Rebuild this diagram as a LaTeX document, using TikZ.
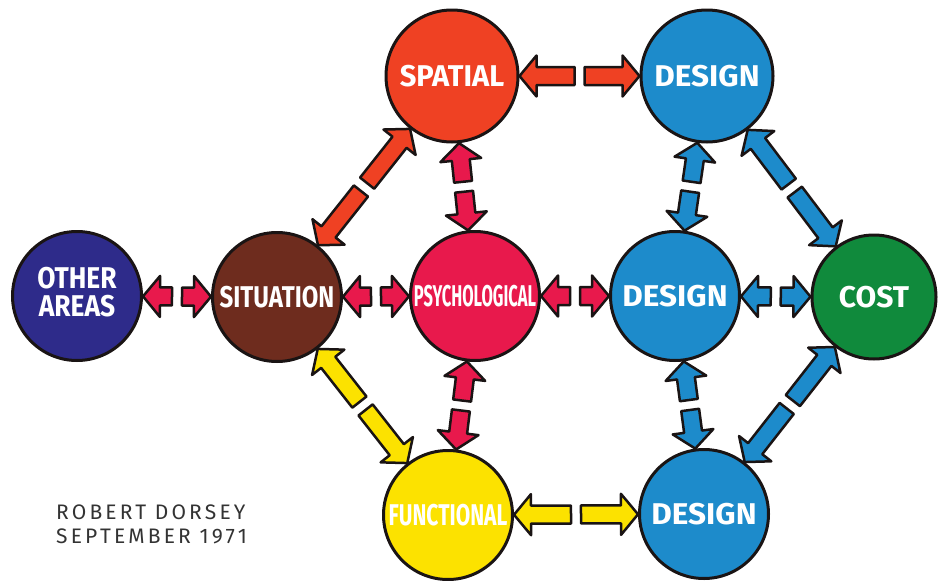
\documentclass[tikz,border=0pt]{standalone}
\usepackage{graphicx}
\usepackage{fontspec}
\setmainfont{Fira Sans}
\newfontfamily\creditfont[LetterSpace=15]{Fira Sans}
\usepackage{tikz}
\usetikzlibrary{calc}
\usepackage{xcolor}
\definecolor{inkline}{HTML}{1A1414}
\definecolor{navyball}{HTML}{2E2B8A}
\definecolor{brownball}{HTML}{6E2C1E}
\definecolor{redball}{HTML}{EF4123}
\definecolor{crimsonball}{HTML}{E8194C}
\definecolor{yellowball}{HTML}{FCE200}
\definecolor{blueball}{HTML}{1D8BCB}
\definecolor{greenball}{HTML}{108A3C}
\definecolor{pencil}{HTML}{333333}

% arrow sizes
\newcommand{\arrshaft}{9pt}
\newcommand{\arrhead}{20.5pt}
\newcommand{\arrneck}{17pt}
\newcommand{\arrgap}{5pt}

% one half of a split arrow: fill colour, tail point, tip point
\newcommand{\arrowhalf}[3]{%
  \coordinate (ah-n) at ($(#3)!\arrneck!(#2)$);
  \filldraw[arrowpart, fill=#1]
    ($(#2)!\arrshaft!90:(#3)$) -- ($(ah-n)!\arrshaft!90:(#3)$) -- ($(ah-n)!\arrhead!90:(#3)$)
    -- (#3) -- ($(ah-n)!\arrhead!-90:(#3)$) -- ($(ah-n)!\arrshaft!-90:(#3)$)
    -- ($(#2)!\arrshaft!-90:(#3)$) -- cycle;
}
% split double arrow between two balls
\newcommand{\linkballs}[3]{%
  \path (#2) -- (#3) coordinate[pos=0] (lk-a) coordinate[pos=.5] (lk-m) coordinate[pos=1] (lk-b);
  \arrowhalf{#1}{$(lk-m)!\arrgap!(lk-a)$}{lk-a}
  \arrowhalf{#1}{$(lk-m)!\arrgap!(lk-b)$}{lk-b}
}
\newcommand{\squeeze}[2]{\makebox[0pt]{\scalebox{#1}[1]{#2}}}

\tikzset{
  ball/.style={circle, draw=inkline, line width=3pt, minimum size=#1, inner sep=0pt,
    text=white, font=\fontsize{30}{31}\selectfont\bfseries},
  ball/.default=129pt,
  arrowpart/.style={draw=inkline, line width=2.5pt, line join=round},
  credit/.style={text=pencil, font=\creditfont\fontsize{21}{24}\selectfont, align=left, inner sep=0pt}
}

\begin{document}
\begin{tikzpicture}[x=1pt, y=-1pt]
\useasboundingbox (0,0) rectangle (938,581);

% balls
\node[ball, fill=navyball] (oth) at (77,296) {\makebox[0pt]{\begin{tabular}{@{}c@{}}\scalebox{.88}[1]{OTHER}\\[-3pt]\scalebox{.88}[1]{AREAS}\end{tabular}}};
\node[ball, fill=brownball] (sit) at (277,297) {\squeeze{.8}{SITUATION}};
\node[ball, fill=redball, minimum size=132pt] (spa) at (452,76) {\squeeze{.97}{SPATIAL}};
\node[ball, fill=crimsonball] (psy) at (475,296) {\squeeze{.55}{PSYCHOLOGICAL}};
\node[ball, fill=yellowball] (fun) at (448,515) {\squeeze{.7}{FUNCTIONAL}};
\node[ball, fill=blueball, minimum size=132pt] (dtop) at (707,76) {\squeeze{1.05}{DESIGN}};
\node[ball, fill=blueball] (dmid) at (675,296) {\squeeze{1.05}{DESIGN}};
\node[ball, fill=blueball] (dbot) at (704,514) {\squeeze{1.05}{DESIGN}};
\node[ball=124pt, fill=greenball] (cost) at (874,297) {\makebox[0pt]{COST}};

% arrows
\linkballs{crimsonball}{oth}{sit}
\linkballs{crimsonball}{sit}{psy}
\linkballs{crimsonball}{psy}{dmid}
\linkballs{blueball}{dmid}{cost}
\linkballs{redball}{spa}{dtop}
\linkballs{yellowball}{fun}{dbot}
\linkballs{redball}{sit}{spa}
\linkballs{yellowball}{sit}{fun}
\linkballs{crimsonball}{spa}{psy}
\linkballs{crimsonball}{psy}{fun}
\linkballs{blueball}{dtop}{dmid}
\linkballs{blueball}{dmid}{dbot}
\linkballs{blueball}{dtop}{cost}
\linkballs{blueball}{dbot}{cost}

\node[credit, anchor=north west] (sign) at (56,505) {ROBERT DORSEY\\SEPTEMBER 1971};
\end{tikzpicture}
\end{document}
